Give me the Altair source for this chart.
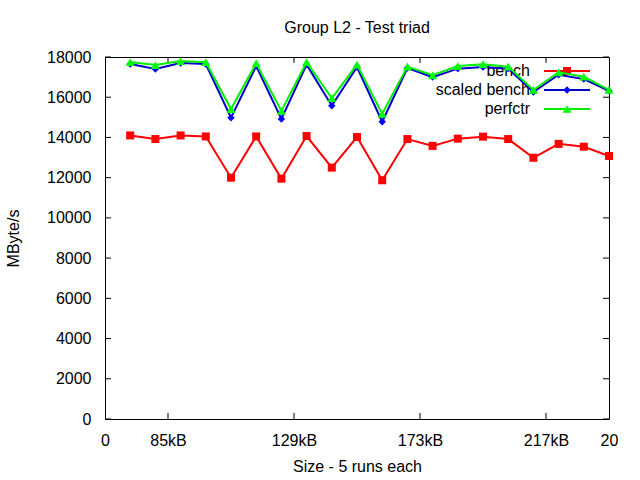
import altair as alt
import pandas as pd

# ---- data ----
x_index = list(range(1, 21))
bench = [14100, 13920, 14100, 14050, 12000, 14050, 11950, 14070, 12500, 14020,
         11870, 13920, 13580, 13940, 14040, 13920, 12990, 13680, 13540, 13080]
scaled_bench = [17650, 17400, 17700, 17650, 14980, 17550, 14920, 17620, 15580, 17500,
                14780, 17450, 17000, 17420, 17500, 17420, 16260, 17120, 16900, 16320]
perfctr = [17750, 17600, 17800, 17740, 15410, 17690, 15320, 17740, 15950, 17620,
           15170, 17520, 17090, 17550, 17640, 17520, 16360, 17240, 17020, 16360]
series_names = ["bench", "scaled bench", "perfctr"]
x_tick_values = [0, 2.5, 7.5, 12.5, 17.5, 20]
x_tick_labels = ["0", "85kB", "129kB", "173kB", "217kB", "20"]
y_tick_values = [0, 2000, 4000, 6000, 8000, 10000, 12000, 14000, 16000, 18000]

# ---- styling ----
FONT = "Liberation Sans"
FS = 16
W, H = 504, 362
line_colors = {"bench": "#ff0000", "scaled bench": "#0000c8", "perfctr": "#00ee00"}
mark_colors = {"bench": "#ff0000", "scaled bench": "#0000ff", "perfctr": "#00ff00"}
shapes = {"bench": "square", "scaled bench": "diamond", "perfctr": "triangle-up"}
sizes = {"bench": 64, "scaled bench": 55, "perfctr": 80}

values = {"bench": bench, "scaled bench": scaled_bench, "perfctr": perfctr}

xscale = alt.Scale(domain=[0, 20], nice=False, zero=False)
yscale = alt.Scale(domain=[0, 18000], nice=False)

label_map = "{" + ",".join(f"'{v}':'{l}'" for v, l in zip(x_tick_values, x_tick_labels)) + "}"

xaxis = alt.Axis(values=x_tick_values, labelExpr=f"{label_map}[datum.value]",
                 tickSize=0, domain=False, grid=False, labelPadding=13,
                 labelFont=FONT, labelFontSize=FS, labelColor="#000",
                 labelFlush=False, labelOverlap=False,
                 title="Size - 5 runs each", titleFont=FONT, titleFontSize=FS,
                 titleFontWeight="normal", titleColor="#000",
                 titleY=47, titleBaseline="middle")
yaxis = alt.Axis(values=y_tick_values, format="d", tickSize=0, domain=False, grid=False,
                 labelPadding=14, labelFont=FONT, labelFontSize=FS, labelColor="#000",
                 labelFlush=False, labelOverlap=False,
                 title="MByte/s", titleFont=FONT, titleFontSize=FS,
                 titleFontWeight="normal", titleColor="#000",
                 titleX=-92, titleY=H / 2, titleAngle=270, titleAlign="center",
                 titleBaseline="middle")

layers = []

# legend (drawn first, data lines go over it as in the reference)
for i, name in enumerate(series_names):
    ly = 14 + 19 * i
    base = alt.Chart(pd.DataFrame({"k": [0]}))
    layers.append(base.mark_text(align="right", baseline="middle", font=FONT,
                                 fontSize=FS, color="#000")
                  .encode(x=alt.value(425), y=alt.value(ly), text=alt.value(name)))
    layers.append(base.mark_rule(color=line_colors[name], strokeWidth=2)
                  .encode(x=alt.value(439), x2=alt.value(485), y=alt.value(ly)))
    layers.append(base.mark_point(filled=True, opacity=1, shape=shapes[name],
                                  size=sizes[name], color=mark_colors[name])
                  .encode(x=alt.value(462), y=alt.value(ly)))

# inward ticks
yt = alt.Chart(pd.DataFrame({"t": y_tick_values}))
xt = alt.Chart(pd.DataFrame({"t": x_tick_values[1:-1]}))
layers.append(yt.mark_rule(color="#000", strokeWidth=1).encode(
    y=alt.Y("t:Q", scale=yscale, axis=yaxis), x=alt.value(0), x2=alt.value(6)))
layers.append(yt.mark_rule(color="#000", strokeWidth=1).encode(
    y=alt.Y("t:Q", scale=yscale), x=alt.value(W - 6), x2=alt.value(W)))
layers.append(xt.mark_rule(color="#000", strokeWidth=1).encode(
    x=alt.X("t:Q", scale=xscale, axis=xaxis), y=alt.value(H - 6), y2=alt.value(H)))
layers.append(xt.mark_rule(color="#000", strokeWidth=1).encode(
    x=alt.X("t:Q", scale=xscale), y=alt.value(0), y2=alt.value(6)))

# data series
for name in series_names:
    df = pd.DataFrame({"x": x_index, "y": values[name]})
    c = alt.Chart(df)
    layers.append(c.mark_line(color=line_colors[name], strokeWidth=2).encode(
        x=alt.X("x:Q", scale=xscale), y=alt.Y("y:Q", scale=yscale)))
    layers.append(c.mark_point(filled=True, opacity=1, shape=shapes[name],
                               size=sizes[name], color=mark_colors[name]).encode(
        x=alt.X("x:Q", scale=xscale), y=alt.Y("y:Q", scale=yscale)))

chart = alt.layer(*layers).properties(
    width=W, height=H,
    title=alt.TitleParams("Group L2 - Test triad", font=FONT, fontSize=FS,
                          fontWeight="normal", color="#000", anchor="middle",
                          offset=13),
    padding={"left": 105, "top": 57, "right": 31, "bottom": 61},
    autosize=alt.AutoSizeParams(type="none"),
    background="white",
).configure_view(stroke="#000", strokeWidth=1)

chart.save("out.html", embed_options={"renderer": "svg", "actions": False})
